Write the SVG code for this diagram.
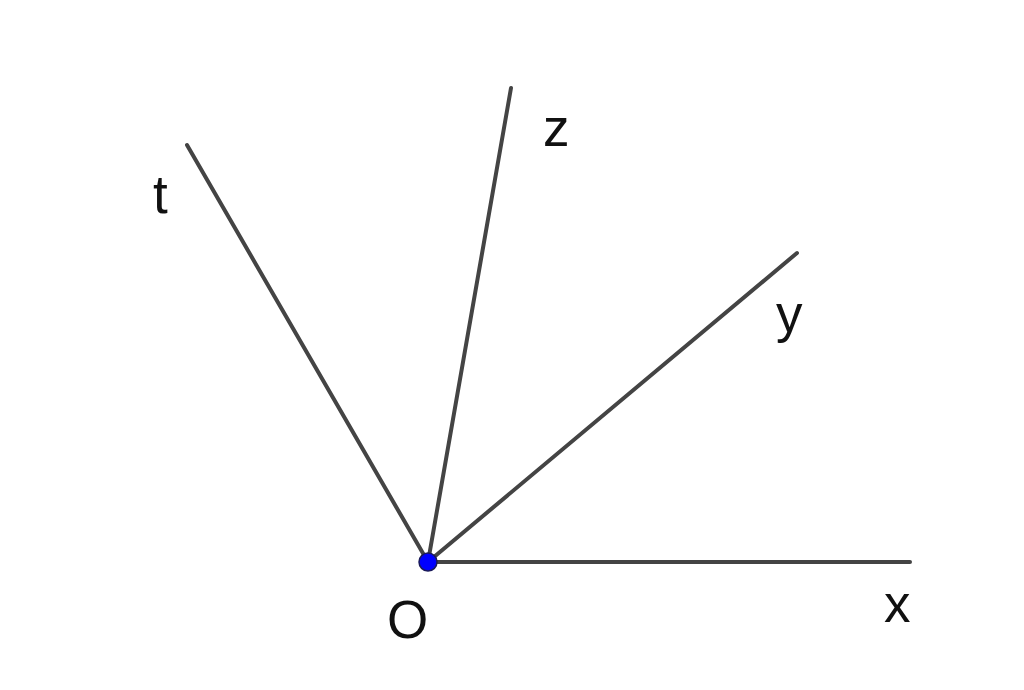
<svg xmlns="http://www.w3.org/2000/svg" width="1024" height="690" viewBox="0 0 1024 690">
<style>
.ray{stroke:#444;stroke-width:4;stroke-linecap:round;fill:none}
.lbl{font-family:"Liberation Sans",Arial,sans-serif;font-size:53px;fill:#111}
</style>
<rect width="1024" height="690" fill="#fff"/>
<g id="connectors">
<line class="ray" x1="428" y1="562" x2="910" y2="562"/>
<line class="ray" x1="428" y1="562" x2="797" y2="253"/>
<line class="ray" x1="428" y1="562" x2="511" y2="88"/>
<line class="ray" x1="428" y1="562" x2="187" y2="145"/>
</g>
<g id="O"><circle cx="428" cy="562" r="9" fill="#0000ff" stroke="#1a1a5a" stroke-width="1.5"/><text class="lbl" x="387" y="638">O</text></g>
<g id="t"><text class="lbl" x="153" y="213">t</text></g>
<g id="z"><text class="lbl" x="543" y="146">z</text></g>
<g id="y"><text class="lbl" x="776" y="332">y</text></g>
<g id="x"><text class="lbl" x="884" y="622">x</text></g>
</svg>
